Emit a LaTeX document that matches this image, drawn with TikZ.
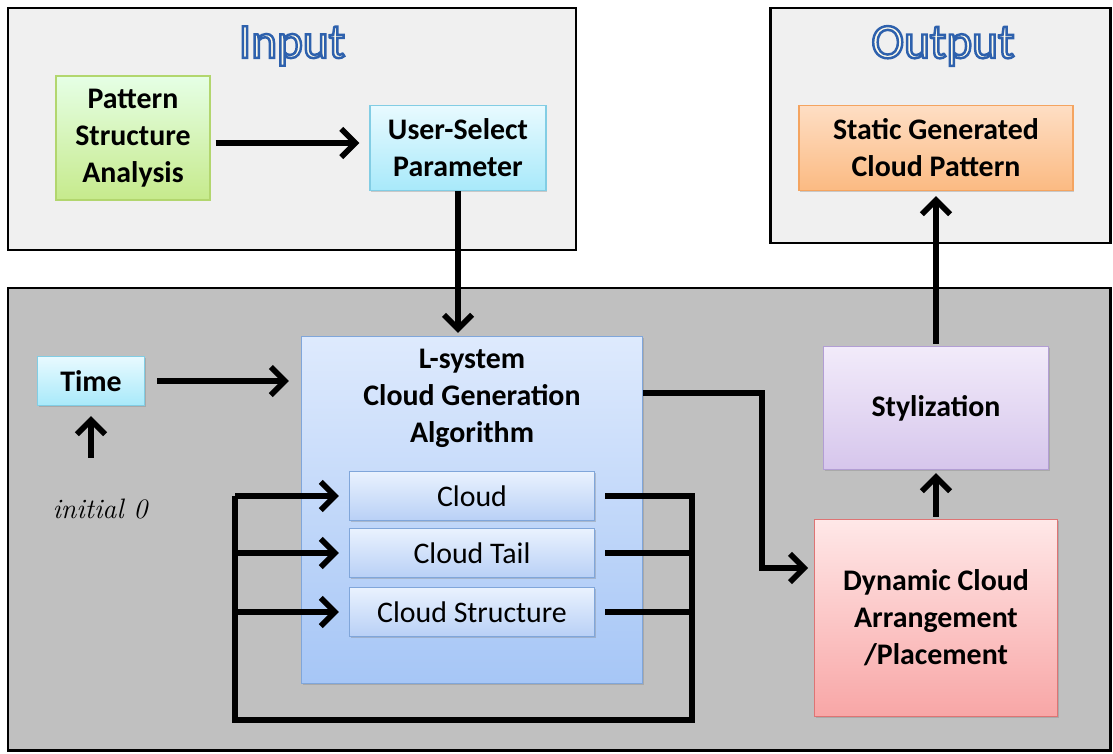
\documentclass[tikz,border=0pt]{standalone}
\usepackage{fontspec}
\setmainfont{Carlito}
\usepackage{tikz}
\usetikzlibrary{arrows.meta,calc,positioning,shadows}
\definecolor{framegray}{HTML}{F0F0F0}
\definecolor{darkgray}{HTML}{C0C0C0}
\definecolor{cream}{HTML}{FFFBEA}
% outlined title text (stroke + fill)
\newcommand\outlined[1]{\special{pdf:code q 2 Tr 1.4 w 0.18 0.38 0.68 RG}#1\special{pdf:code Q}}

\tikzset{
  box/.style={draw, line width=0.8pt, align=center, inner sep=2pt,
    font=\bfseries\fontsize{17}{21}\selectfont,
    drop shadow={opacity=0.35, shadow xshift=0.6pt, shadow yshift=-0.8pt}},
  greenbox/.style={box, top color=green!10!white, bottom color={rgb,255:red,198;green,234;blue,140}, draw={rgb,255:red,178;green,214;blue,110}},
  cyanbox/.style={box, top color={rgb,255:red,232;green,250;blue,255}, bottom color={rgb,255:red,168;green,233;blue,250}, draw={rgb,255:red,130;green,205;blue,228}},
  orangebox/.style={box, top color={rgb,255:red,254;green,222;blue,196}, bottom color={rgb,255:red,251;green,186;blue,130}, draw={rgb,255:red,244;green,164;blue,96}},
  purplebox/.style={box, top color={rgb,255:red,242;green,235;blue,250}, bottom color={rgb,255:red,214;green,198;blue,236}, draw={rgb,255:red,178;green,158;blue,212}},
  redbox/.style={box, top color={rgb,255:red,255;green,232;blue,232}, bottom color={rgb,255:red,248;green,166;blue,166}, draw={rgb,255:red,222;green,116;blue,116}},
  bluebox/.style={box, top color={rgb,255:red,222;green,234;blue,253}, bottom color={rgb,255:red,166;green,198;blue,246}, draw={rgb,255:red,128;green,166;blue,218}},
  partbox/.style={box, font=\fontsize{17}{21}\selectfont, minimum width=4.9cm, minimum height=0.98cm,
    top color={rgb,255:red,234;green,242;blue,254}, bottom color={rgb,255:red,184;green,208;blue,246}, draw={rgb,255:red,128;green,166;blue,218}},
  frame/.style={draw=black, line width=1.7pt},
  conn/.style={line width=3.2pt, -{Straight Barb[length=8pt,width=16pt]}},
  line/.style={line width=3.2pt},
  title/.style={font=\fontsize{28}{32}\selectfont, text=cream}
}

\begin{document}
\begin{tikzpicture}[x=0.02cm,y=-0.02cm]
  \useasboundingbox (0,0) rectangle (1113,754);
  % frames
  \filldraw[frame, fill=framegray] (8,8) rectangle (576,250);
  \filldraw[frame, fill=framegray] (770,8) rectangle (1110,243);
  \filldraw[frame, fill=darkgray] (8,288) rectangle (1110,750);
  % titles
  \node[title] (intitle) at (292,46) {\outlined{Input}};
  \node[title] (outtitle) at (943,46) {\outlined{Output}};
  % input boxes
  \node[greenbox, minimum width=3.08cm, minimum height=2.48cm] (psa) at (133,138) {Pattern\\Structure\\Analysis};
  \node[cyanbox, minimum width=3.52cm, minimum height=1.7cm] (usp) at (458,148) {User-Select\\Parameter};
  % output box
  \node[orangebox, minimum width=5.48cm, minimum height=1.7cm] (sgcp) at (936,148) {Static Generated\\Cloud Pattern};
  % main part
  \node[bluebox, minimum width=6.82cm, minimum height=6.94cm] (lsys) at (472,510) {};
  \node[font=\bfseries\fontsize{17}{21}\selectfont, align=center] (lsystxt) at (472,398) {L-system\\Cloud Generation\\Algorithm};
  \node[partbox] (cloud) at (472,496) {Cloud};
  \node[partbox] (tail) at (472,553) {Cloud Tail};
  \node[partbox] (struct) at (472,612) {Cloud Structure};
  \node[cyanbox, minimum width=2.14cm, minimum height=0.98cm] (time) at (91,381) {Time};
  \node[font=\itshape\fontsize{16}{20}\selectfont] (init) at (100,509) {\fontspec{Latin Modern Roman}initial~0};
  \node[purplebox, minimum width=4.5cm, minimum height=2.46cm] (styl) at (936,408) {Stylization};
  \node[redbox, minimum width=4.86cm, minimum height=3.94cm] (dca) at (936,618) {Dynamic Cloud\\Arrangement\\/Placement};
  % connectors
  \draw[conn, shorten <=0.1cm, shorten >=0.2cm] (psa.east |- 0,143) -- (usp.west |- 0,143);
  \draw[conn, shorten >=0.06cm] (usp.south) -- (usp.south |- lsys.north);
  \draw[conn, shorten <=0.24cm, shorten >=0.24cm] (time.east) -- (lsys.west |- time.east);
  \draw[conn, shorten <=0.7cm, shorten >=0.2cm] (time.south |- init.north) -- (time.south);
  \coordinate (turn) at (762,393);
  \coordinate (dcain) at (808,568);
  \draw[conn] (lsys.east |- turn) -- (turn) |- (dcain);
  \draw[conn, shorten <=0.04cm, shorten >=0.06cm] (dca.north) -- (styl.south);
  \draw[conn, shorten <=0.04cm, shorten >=0.1cm] (styl.north) -- (sgcp.south);
  % feedback loop
  \coordinate (loopse) at (692,720);
  \coordinate (loopsw) at (235,720);
  \draw[line] ([xshift=0.2cm]cloud.east) -| (loopse) -- (loopsw) -- (loopsw |- cloud.west);
  \draw[line] ([xshift=0.2cm]tail.east) -- (tail.east -| loopse);
  \draw[line] ([xshift=0.2cm]struct.east) -- (struct.east -| loopse);
  \draw[conn, shorten >=0.2cm] (loopsw |- cloud.west) -- (cloud.west);
  \draw[conn, shorten >=0.2cm] (loopsw |- tail.west) -- (tail.west);
  \draw[conn, shorten >=0.2cm] (loopsw |- struct.west) -- (struct.west);
\end{tikzpicture}
\end{document}
